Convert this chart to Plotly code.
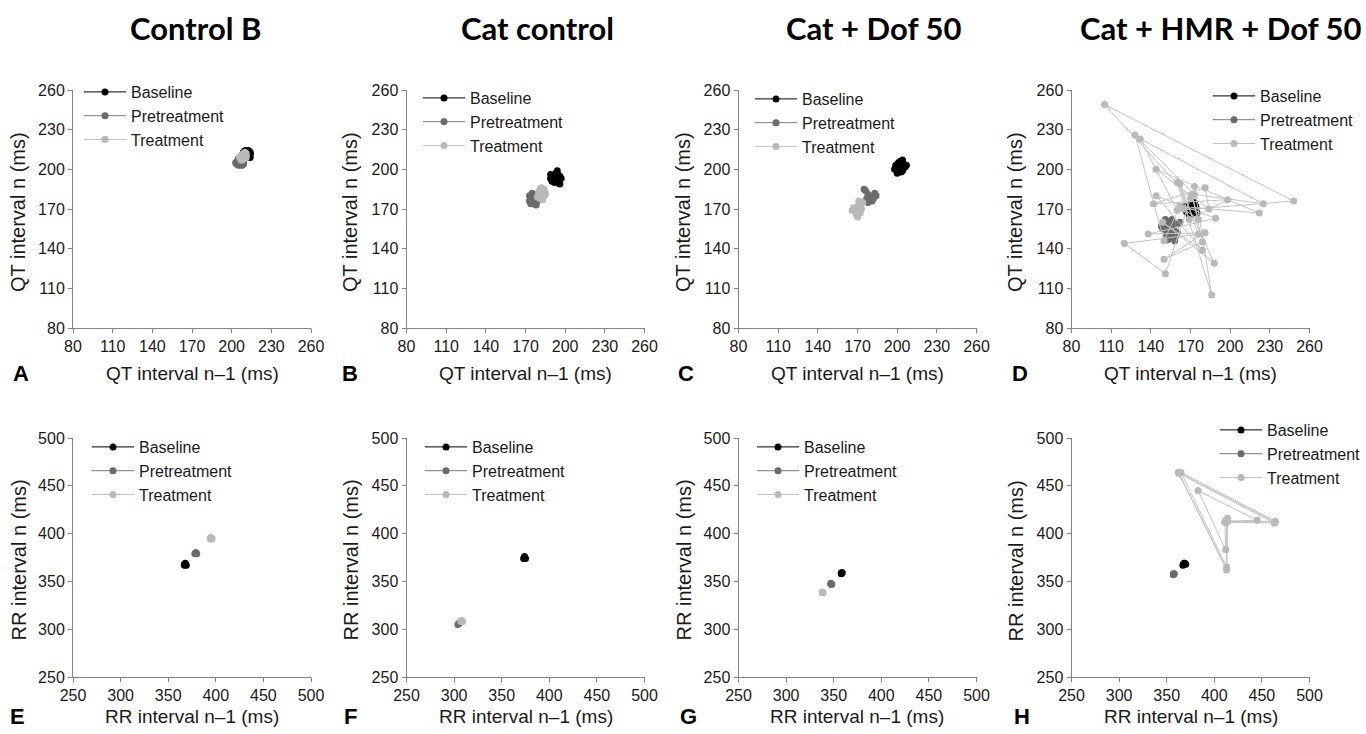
import plotly.graph_objects as go

W, H = 1366, 734

COL_TITLES = ["Control B", "Cat control", "Cat + Dof 50", "Cat + HMR + Dof 50"]
PANEL_LETTERS = ["A", "B", "C", "D", "E", "F", "G", "H"]
SERIES_NAMES = ["Baseline", "Pretreatment", "Treatment"]
QT_TICKS = [80, 110, 140, 170, 200, 230, 260]
RR_TICKS = [250, 300, 350, 400, 450, 500]
QT_XTITLE = "QT interval n\u20131 (ms)"
QT_YTITLE = "QT interval n (ms)"
RR_XTITLE = "RR interval n\u20131 (ms)"
RR_YTITLE = "RR interval n (ms)"

# ---------------- QT data (ms) ----------------
# A: Control B
A_base_x = [209, 212, 214, 211, 214, 213, 210, 212, 214, 213, 211, 213, 208, 212, 214, 210]
A_base_y = [213, 214, 211, 214, 212, 210, 214, 211, 213, 214, 212, 210, 211, 213, 209, 212]
A_pre_x = [204, 206, 208, 205, 207, 209, 204, 206, 208, 205, 207, 203, 206, 209, 205, 207]
A_pre_y = [206, 204, 205, 208, 203, 206, 204, 207, 203, 205, 208, 205, 206, 204, 203, 207]
A_trt_x = [207, 209, 211, 208, 210, 206, 209, 211, 208, 210, 207, 209, 211, 208, 210]
A_trt_y = [210, 212, 209, 207, 211, 209, 208, 212, 211, 213, 207, 210, 210, 208, 212]

# B: Cat control
B_base_x = [190, 193, 195, 192, 189, 194, 196, 191, 193, 197, 195, 190, 192, 194, 196, 189]
B_base_y = [194, 197, 192, 190, 196, 199, 195, 192, 191, 193, 190, 191, 195, 197, 189, 193]
B_pre_x = [174, 176, 178, 173, 175, 179, 177, 174, 176, 180, 178, 175, 173, 177]
B_pre_y = [178, 175, 173, 180, 182, 176, 178, 174, 179, 177, 174, 177, 176, 181]
B_trt_x = [180, 182, 184, 181, 183, 185, 179, 182, 185, 181, 183, 184, 180]
B_trt_y = [181, 184, 180, 178, 183, 182, 179, 186, 181, 185, 177, 185, 183]

# C: Cat + Dof 50
C_base_x = [199, 202, 205, 200, 203, 206, 198, 201, 204, 207, 200, 203, 205, 202, 199, 204]
C_base_y = [203, 206, 201, 199, 204, 202, 200, 205, 207, 203, 197, 198, 204, 201, 202, 199]
C_pre_x = [176, 178, 180, 182, 184, 179, 177, 175, 181, 183, 178, 180]
C_pre_y = [184, 181, 179, 178, 180, 176, 178, 185, 176, 182, 175, 178]
C_trt_x = [166, 168, 170, 172, 174, 171, 169, 173, 170, 172, 167, 171]
C_trt_y = [169, 170, 172, 174, 175, 168, 166, 170, 164, 167, 171, 176]

# D: Cat + HMR + Dof 50
D_base_x = [168, 170, 172, 174, 171, 169, 173, 175, 167, 170, 172, 174, 169, 171, 166, 173]
D_base_y = [170, 173, 168, 172, 175, 166, 171, 167, 168, 170, 174, 170, 172, 166, 172, 175]
D_pre_x = [152, 155, 158, 150, 154, 157, 160, 153, 149, 156, 159, 162, 151, 155, 158, 153, 148, 161, 156, 152]
D_pre_y = [150, 153, 148, 157, 160, 155, 152, 147, 155, 158, 150, 160, 162, 149, 146, 155, 157, 159, 162, 152]
D_trt_x = [170, 105, 248, 160, 132, 225, 173, 128, 150, 162, 222, 144, 184, 181, 142,
           198, 169, 162, 176, 120, 151, 173, 186, 160, 188, 149, 179, 144, 189, 138,
           181, 150, 179, 171, 176, 165]
D_trt_y = [178, 249, 176, 169, 223, 174, 181, 226, 146, 172, 167, 200, 170, 186, 174,
           177, 162, 189, 151, 144, 121, 187, 105, 190, 129, 160, 139, 180, 163, 151,
           152, 132, 145, 181, 162, 170]

# ---------------- RR data (ms) ----------------
E_base_x = [367, 368, 369, 367, 368]
E_base_y = [368, 369, 367, 367, 368]
E_pre_x = [378, 379, 380, 379]
E_pre_y = [379, 380, 379, 380]
E_trt_x = [394, 395, 396, 395]
E_trt_y = [395, 396, 395, 394]

F_base_x = [373, 374, 375, 374]
F_base_y = [374, 375, 374, 376]
F_pre_x = [304, 305, 306]
F_pre_y = [305, 306, 307]
F_trt_x = [307, 308, 309]
F_trt_y = [308, 309, 308]

G_base_x = [358, 359, 358]
G_base_y = [358, 359, 359]
G_pre_x = [347, 347, 348]
G_pre_y = [347, 348, 347]
G_trt_x = [338, 339, 338]
G_trt_y = [338, 338, 339]

H_base_x = [367, 368, 369, 370, 368]
H_base_y = [367, 368, 369, 368, 369]
H_pre_x = [357, 358, 357]
H_pre_y = [357, 358, 358]
H_trt_x = [413, 413, 413, 362, 464, 412, 413, 413, 363, 463, 411, 412, 383, 445, 414, 413, 365, 464, 413, 412, 414]
H_trt_y = [413, 413, 362, 464, 412, 413, 413, 363, 463, 411, 412, 383, 445, 414, 413, 365, 464, 413, 412, 414, 416]

PANELS = [
    (A_base_x, A_base_y, A_pre_x, A_pre_y, A_trt_x, A_trt_y),
    (B_base_x, B_base_y, B_pre_x, B_pre_y, B_trt_x, B_trt_y),
    (C_base_x, C_base_y, C_pre_x, C_pre_y, C_trt_x, C_trt_y),
    (D_base_x, D_base_y, D_pre_x, D_pre_y, D_trt_x, D_trt_y),
    (E_base_x, E_base_y, E_pre_x, E_pre_y, E_trt_x, E_trt_y),
    (F_base_x, F_base_y, F_pre_x, F_pre_y, F_trt_x, F_trt_y),
    (G_base_x, G_base_y, G_pre_x, G_pre_y, G_trt_x, G_trt_y),
    (H_base_x, H_base_y, H_pre_x, H_pre_y, H_trt_x, H_trt_y),
]

# ---------------- styling / layout ----------------
MARKER_COLORS = ["#000000", "#6b6b6b", "#b9b9b9"]
LINE_COLORS = ["#000000", "#7a7a7a", "#c4c4c4"]
AXIS_COLOR = "#858585"
TXT = "#1a1a1a"
FONT = "Arial, Liberation Sans, sans-serif"

COL_PX = [(73, 311), (406.5, 644.5), (738.5, 976.5), (1071.5, 1309.5)]
ROW_PX = [(90, 328), (438, 677)]
# legend anchor (left x, or right-edge offset for right-aligned, middle row centre y)
LEG_PX = [(79, 116, "left"), (418, 122, "left"), (750, 123, "left"), (7, 120, "right"),
          (87, 471, "left"), (420, 471, "left"), (752, 471, "left"), (0, 454, "right")]
YTITLE_X = [18, 350, 683, 1015]
LETTER_X = [[21, 350, 686, 1020], [17, 350, 688, 1022]]

fig = go.Figure()
layout = dict(
    width=W, height=H, margin=dict(l=0, r=0, t=0, b=0, autoexpand=False),
    paper_bgcolor="white", plot_bgcolor="white",
    font=dict(family=FONT, color=TXT),
    showlegend=True,
)
annotations = []

for i, data in enumerate(PANELS):
    row, col = divmod(i, 4)
    ax = "" if i == 0 else str(i + 1)
    leg = "legend" if i == 0 else "legend" + str(i + 1)
    for k in range(3):
        fig.add_trace(go.Scatter(
            x=data[2 * k], y=data[2 * k + 1], name=SERIES_NAMES[k],
            mode="lines+markers",
            line=dict(color=LINE_COLORS[k], width=1),
            marker=dict(color=MARKER_COLORS[k], size=7),
            xaxis="x" + ax, yaxis="y" + ax, legend=leg,
            hoverinfo="x+y+name",
        ))
    x0, x1 = COL_PX[col]
    y0, y1 = ROW_PX[row]
    ticks = QT_TICKS if row == 0 else RR_TICKS
    common = dict(
        range=[ticks[0], ticks[-1]], tickvals=ticks, showgrid=False, zeroline=False,
        showline=True, linecolor=AXIS_COLOR, linewidth=1, ticks="outside",
        ticklen=4, tickcolor=AXIS_COLOR, tickfont=dict(family=FONT, size=16, color=TXT),
        fixedrange=True, automargin=False,
    )
    layout["xaxis" + ax] = dict(common, domain=[x0 / W, x1 / W], anchor="y" + ax)
    layout["yaxis" + ax] = dict(common, domain=[1 - y1 / H, 1 - y0 / H], anchor="x" + ax)

    lx, ly, anchor = LEG_PX[i]
    lxv = lx / W if anchor == "left" else 1 - lx / W
    layout[leg] = dict(
        x=lxv, y=1 - (ly - 41) / H, xanchor=anchor, yanchor="top",
        xref="paper", yref="paper", bgcolor="rgba(0,0,0,0)",
        font=dict(family=FONT, size=16, color=TXT), itemwidth=42,
        tracegroupgap=0,
    )

    # axis titles
    xt = QT_XTITLE if row == 0 else RR_XTITLE
    yt = QT_YTITLE if row == 0 else RR_YTITLE
    xt_y = y1 + 45 if row == 0 else y1 + 39
    annotations.append(dict(text=xt, x=(x0 + x1) / 2 / W, y=1 - xt_y / H, xref="paper", yref="paper",
                            showarrow=False, xanchor="center", yanchor="middle",
                            font=dict(family=FONT, size=19, color=TXT)))
    annotations.append(dict(text=yt, x=YTITLE_X[col] / W, y=1 - ((y0 + y1) / 2 + 3) / H, xref="paper", yref="paper",
                            showarrow=False, xanchor="center", yanchor="middle", textangle=-90,
                            font=dict(family=FONT, size=20, color=TXT)))
    annotations.append(dict(text="<b>" + PANEL_LETTERS[i] + "</b>", x=LETTER_X[row][col] / W, y=1 - xt_y / H,
                            xref="paper", yref="paper", showarrow=False, xanchor="center", yanchor="middle",
                            font=dict(family=FONT, size=22, color="#000000")))

TITLE_X = [195, 537, 873, 1221]
for c, t in enumerate(COL_TITLES):
    annotations.append(dict(text="<b>" + t + "</b>", x=TITLE_X[c] / W, y=1 - 28 / H, xref="paper", yref="paper",
                            showarrow=False, xanchor="center", yanchor="middle",
                            font=dict(family="Lato, Open Sans, sans-serif", size=31, color="#000000")))

layout["annotations"] = annotations
fig.update_layout(**layout)
fig.write_html("out.html")
